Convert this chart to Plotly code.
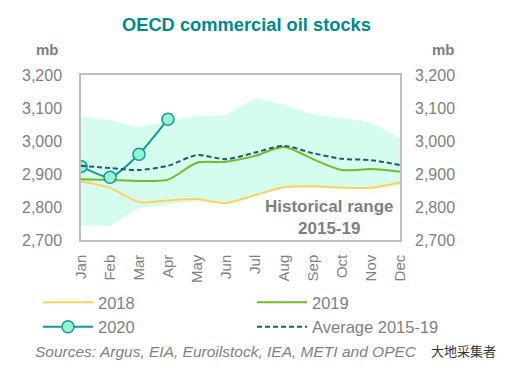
import plotly.graph_objects as go

months = ["Jan", "Feb", "Mar", "Apr", "May", "Jun", "Jul", "Aug", "Sep", "Oct", "Nov", "Dec"]
range_low = [2745, 2742, 2797, 2808, 2818, 2808, 2832, 2857, 2858, 2855, 2855, 2865]
range_high = [3074, 3062, 3042, 3058, 3076, 3078, 3130, 3110, 3080, 3070, 3055, 3008]
s2018 = [2877, 2858, 2815, 2820, 2824, 2812, 2836, 2860, 2863, 2859, 2858, 2874]
s2019 = [2884, 2882, 2879, 2883, 2934, 2937, 2955, 2982, 2945, 2912, 2915, 2907]
avg = [2925, 2918, 2912, 2925, 2957, 2945, 2965, 2985, 2963, 2946, 2942, 2927]
months_2020 = ["Jan", "Feb", "Mar", "Apr"]
s2020 = [2923, 2890, 2960, 3066]
yticks = [2700, 2800, 2900, 3000, 3100, 3200]

GRAY = "#7F7F7F"
FONT = "Liberation Sans, Arial, sans-serif"
L, R, T, B = 81, 113, 75, 134
W, H = 513, 374
PW, PH = W - L - R, H - T - B


def px(X):
    return (X - L) / PW


def py(Y):
    return (H - B - Y) / PH


fig = go.Figure()
fig.add_trace(go.Scatter(x=months, y=range_low, mode="lines", line=dict(width=0),
                         showlegend=False, hoverinfo="skip"))
fig.add_trace(go.Scatter(x=months, y=range_high, mode="lines", line=dict(width=0),
                         fill="tonexty", fillcolor="#D5FCEC", showlegend=False, hoverinfo="skip"))
fig.add_trace(go.Scatter(x=months, y=s2018, name="2018", mode="lines", legend="legend",
                         line=dict(color="#FFD25F", width=2, shape="spline", smoothing=0.8)))
fig.add_trace(go.Scatter(x=months, y=s2019, name="2019", mode="lines", legend="legend2",
                         line=dict(color="#74BB2A", width=2, shape="spline", smoothing=0.8)))
fig.add_trace(go.Scatter(x=months_2020, y=s2020, name="2020", mode="lines+markers", legend="legend",
                         line=dict(color="#12999A", width=2, shape="spline", smoothing=0.6),
                         marker=dict(size=12, color="#97F2D0", line=dict(color="#12999A", width=1.5))))
fig.add_trace(go.Scatter(x=months, y=avg, name="Average 2015-19", mode="lines", legend="legend2",
                         line=dict(color="#1B5E6A", width=2, dash="5px,3px", shape="spline", smoothing=0.8)))
# invisible trace for right axis
fig.add_trace(go.Scatter(x=months, y=avg, yaxis="y2", mode="lines", line=dict(width=0),
                         showlegend=False, hoverinfo="skip"))

yax = dict(range=[2700, 3200], tickvals=yticks, tickformat=",", showgrid=False, zeroline=False,
           tickfont=dict(size=16, color=GRAY, family=FONT), ticks="", fixedrange=True,
           automargin=False)
leg = dict(orientation="v", yanchor="top", traceorder="normal", tracegroupgap=0,
           font=dict(size=16.5, color=GRAY, family=FONT), itemwidth=50, bgcolor="rgba(0,0,0,0)")
fig.update_layout(
    width=W, height=H,
    margin=dict(l=L, r=R, t=T, b=B, autoexpand=False),
    paper_bgcolor="white", plot_bgcolor="white",
    font=dict(family=FONT, color=GRAY),
    xaxis=dict(tickangle=-90, tickfont=dict(size=15, color=GRAY, family=FONT), showgrid=False,
               showline=True, linecolor="#BFBFBF", linewidth=1.5, mirror=True, ticks="",
               range=[0, 11], automargin=False, ticklabelstandoff=7, fixedrange=True),
    yaxis=dict(**yax, showline=True, linecolor="#BFBFBF", linewidth=1.5, mirror=True, ticklabelstandoff=14),
    yaxis2=dict(**yax, overlaying="y", side="right", showline=False, ticklabelstandoff=14),
    legend=dict(**leg, x=px(38), xanchor="left", y=py(285)),
    legend2=dict(**leg, x=px(252), xanchor="left", y=py(285)),
    showlegend=True,
)

fig.add_annotation(text="<b>OECD commercial oil stocks</b>", xref="paper", yref="paper",
                   x=px(246), y=py(24), showarrow=False, xanchor="center",
                   font=dict(size=18.3, color="#00878A", family=FONT), yanchor="middle")
for xm in (47, 443):
    fig.add_annotation(text="<b>mb</b>", xref="paper", yref="paper", x=px(xm),
                       y=py(50), showarrow=False, xanchor="center", yanchor="middle",
                       font=dict(size=15, color=GRAY, family=FONT))
fig.add_annotation(text="<b>Historical range</b><br><b>2015-19</b>", xref="paper", yref="paper",
                   x=px(396), y=py(217), showarrow=False,
                   xanchor="right", yanchor="middle", align="center",
                   font=dict(size=17, color=GRAY, family=FONT))
fig.add_annotation(text="<i>Sources: Argus, EIA, Euroilstock, IEA, METI and OPEC</i>", xref="paper",
                   yref="paper", x=px(33), y=py(351), showarrow=False,
                   xanchor="left", yanchor="middle", font=dict(size=15.5, color=GRAY, family=FONT))
fig.add_annotation(text="大地采集者", xref="paper", yref="paper", x=px(498),
                   y=py(350), showarrow=False, xanchor="right", yanchor="middle",
                   bgcolor="rgba(255,255,255,0.9)",
                   font=dict(size=13, color="#333333", family="Noto Sans CJK SC"))

fig.write_html("out.html", config={"displayModeBar": False},
               post_script="document.body.style.margin='0';document.body.style.padding='0';")
